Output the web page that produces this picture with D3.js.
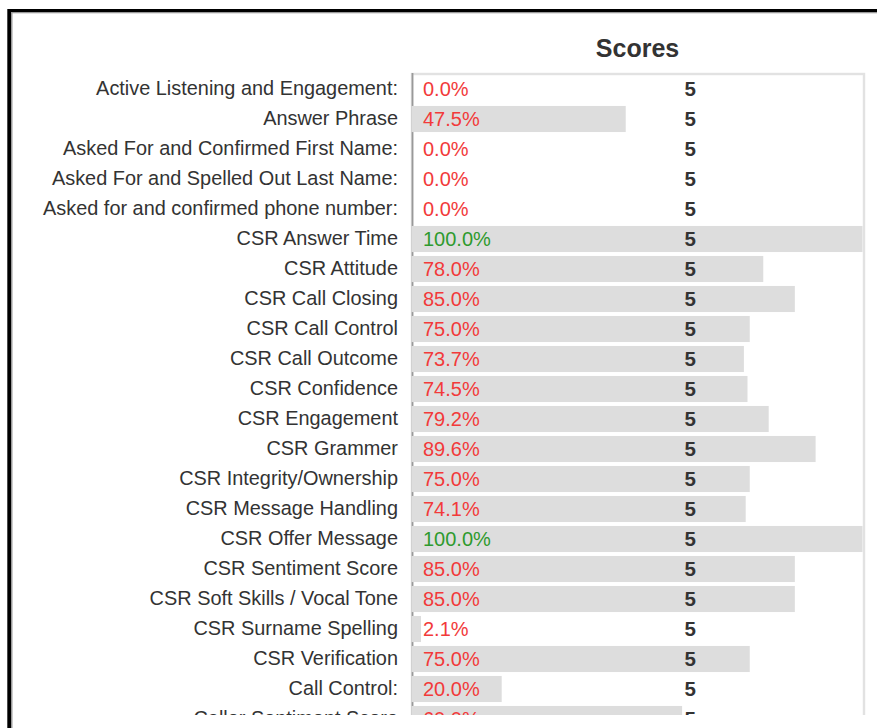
<!DOCTYPE html>
<html>
<head>
<meta charset="utf-8">
<script src="https://cdn.jsdelivr.net/npm/d3@7"></script>
<style>
  html, body { margin: 0; padding: 0; background: #fff; }
  svg { display: block; }
</style>
</head>
<body>
<svg id="chart" width="877" height="728"></svg>
<script>
// Score categories, in display order
const categories = [
  "Active Listening and Engagement:",
  "Answer Phrase",
  "Asked For and Confirmed First Name:",
  "Asked For and Spelled Out Last Name:",
  "Asked for and confirmed phone number:",
  "CSR Answer Time",
  "CSR Attitude",
  "CSR Call Closing",
  "CSR Call Control",
  "CSR Call Outcome",
  "CSR Confidence",
  "CSR Engagement",
  "CSR Grammer",
  "CSR Integrity/Ownership",
  "CSR Message Handling",
  "CSR Offer Message",
  "CSR Sentiment Score",
  "CSR Soft Skills / Vocal Tone",
  "CSR Surname Spelling",
  "CSR Verification",
  "Call Control:",
  "Caller Sentiment Score"
];

// Percentage score per category
const scores = [
  0.0, 47.5, 0.0, 0.0, 0.0, 100.0, 78.0, 85.0, 75.0, 73.7, 74.5,
  79.2, 89.6, 75.0, 74.1, 100.0, 85.0, 85.0, 2.1, 75.0, 20.0, 60.0
];

// Number of evaluations per category
const counts = [
  5, 5, 5, 5, 5, 5, 5, 5, 5, 5, 5,
  5, 5, 5, 5, 5, 5, 5, 5, 5, 5, 5
];

const scoreDomain = [0, 100];
const title = "Scores";

const svg = d3.select("#chart");
const W = 877, H = 728;

// Outer frame: black edge with a thin grey inner rule
svg.append("rect").attr("x", 7.3).attr("y", 9).attr("width", W).attr("height", H).attr("fill", "#000");
svg.append("rect").attr("x", 11).attr("y", 12).attr("width", W).attr("height", H).attr("fill", "#9a9a9a");
svg.append("rect").attr("x", 12.5).attr("y", 13.3).attr("width", W).attr("height", H).attr("fill", "#fff");

const plot = { left: 412, right: 863, top: 74, step: 30 };

// The panel content is clipped at the bottom of its container
svg.append("defs").append("clipPath").attr("id", "panel-clip")
  .append("rect").attr("x", 12.5).attr("y", 13.3).attr("width", W).attr("height", 715 - 13.3);

const g = svg.append("g").attr("clip-path", "url(#panel-clip)");

const x = d3.scaleLinear().domain(scoreDomain).range([plot.left, plot.right]);
const y = d3.scaleBand()
  .domain(categories)
  .range([plot.top, plot.top + plot.step * categories.length])
  .paddingInner(0.13)
  .paddingOuter(0.065);

const rows = categories.map((c, i) => ({ cat: c, score: scores[i], count: counts[i] }));

// Plot frame (light top/right, darker left axis)
g.append("rect")
  .attr("x", plot.left).attr("y", plot.top)
  .attr("width", plot.right - plot.left + 1)
  .attr("height", 1000)
  .attr("fill", "none")
  .attr("stroke", "#e2e2e2")
  .attr("stroke-width", 2.4);

g.append("line")
  .attr("x1", plot.left + 0.5).attr("x2", plot.left + 0.5)
  .attr("y1", plot.top - 1).attr("y2", 1000)
  .attr("stroke", "#999")
  .attr("stroke-width", 1.8);

// Title
svg.append("text")
  .attr("x", (plot.left + plot.right) / 2)
  .attr("y", 57)
  .attr("text-anchor", "middle")
  .attr("font-family", "'Liberation Sans', Arial, sans-serif")
  .attr("font-size", 25)
  .attr("font-weight", "bold")
  .attr("fill", "#333")
  .text(title);

// Bars
g.selectAll("rect.bar")
  .data(rows)
  .join("rect")
  .attr("class", "bar")
  .attr("x", x(0) - 0.5)
  .attr("y", d => y(d.cat))
  .attr("width", d => x(d.score) - x(0))
  .attr("height", y.bandwidth())
  .attr("fill", "#dddddd");

// Category labels
const yAxis = d3.axisLeft(y).tickSize(0).tickPadding(14);
const axisG = g.append("g")
  .attr("transform", `translate(${plot.left},0)`)
  .call(yAxis);
axisG.select(".domain").remove();
axisG.selectAll("text")
  .attr("font-family", "'Liberation Sans', Arial, sans-serif")
  .attr("font-size", 19.9)
  .attr("fill", "#333");

// Percentage labels
g.selectAll("text.pct")
  .data(rows)
  .join("text")
  .attr("class", "pct")
  .attr("x", x(0) + 11)
  .attr("y", d => y(d.cat) + y.bandwidth() / 2)
  .attr("dy", "0.36em")
  .attr("font-family", "'Liberation Sans', Arial, sans-serif")
  .attr("font-size", 20)
  .attr("fill", d => d.score >= 100 ? "#2e9a2e" : "#f23a3a")
  .text(d => d.score.toFixed(1) + "%");

// Count column
const countX = x(0) + (plot.right - plot.left) * 0.604;
g.selectAll("text.count")
  .data(rows)
  .join("text")
  .attr("class", "count")
  .attr("x", countX)
  .attr("y", d => y(d.cat) + y.bandwidth() / 2)
  .attr("dy", "0.36em")
  .attr("font-family", "'Liberation Sans', Arial, sans-serif")
  .attr("font-size", 20.5)
  .attr("font-weight", "bold")
  .attr("fill", "#333")
  .text(d => d.count);
</script>
</body>
</html>
